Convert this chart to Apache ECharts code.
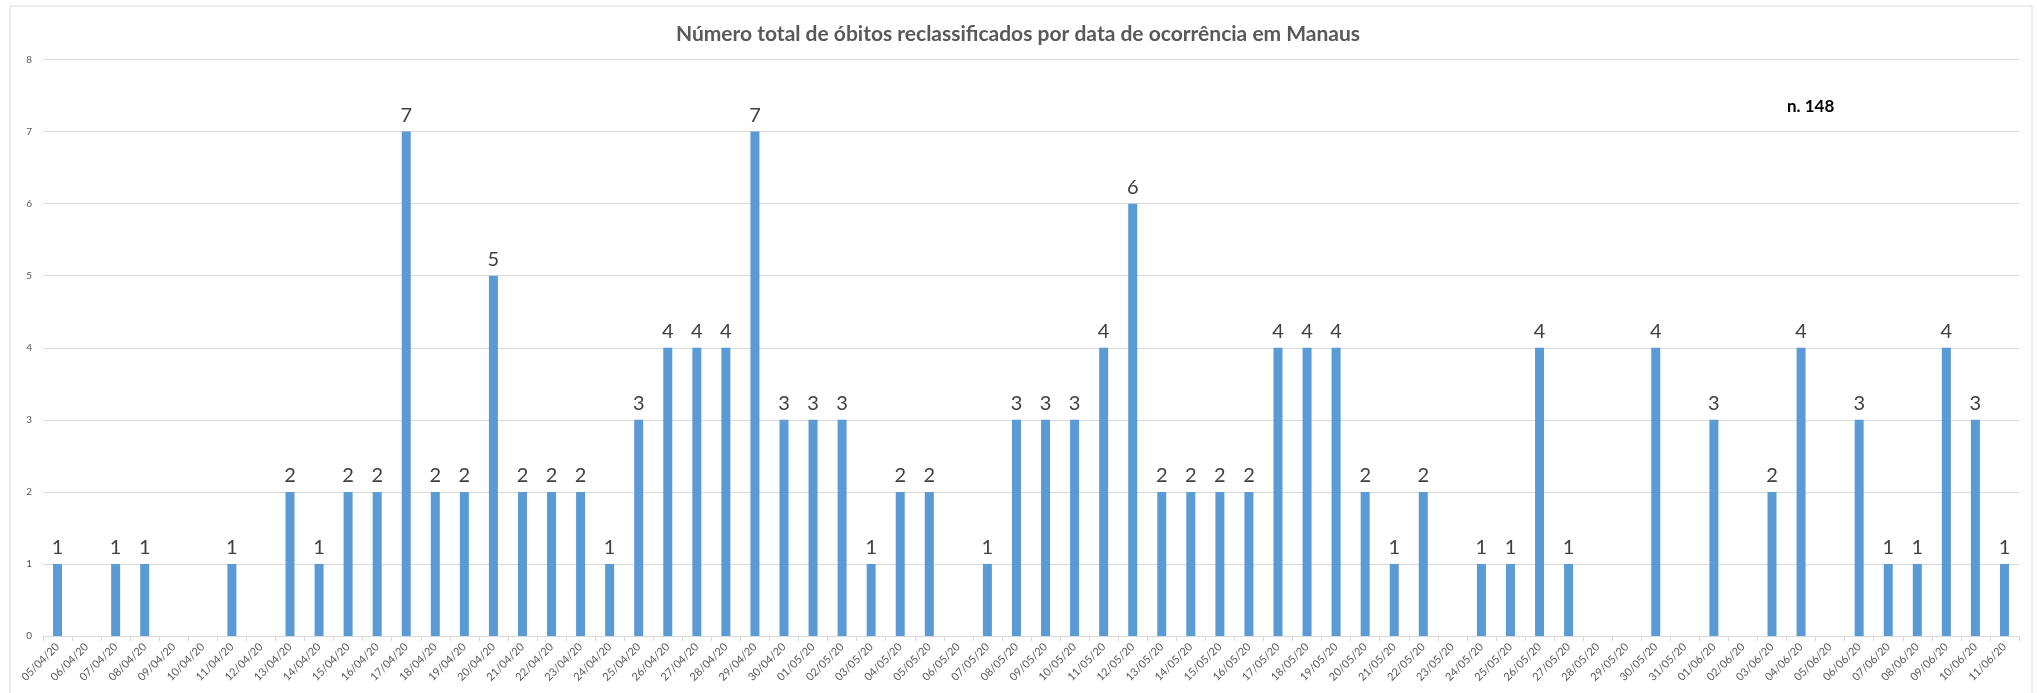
<!DOCTYPE html>
<html>
<head>
<meta charset="utf-8">
<script src="https://cdn.jsdelivr.net/npm/echarts@6/dist/echarts.min.js"></script>
<style>
html,body{margin:0;padding:0;background:#fff;}
#chart{width:2037px;height:693px;}
</style>
</head>
<body>
<div id="chart"></div>
<script>
const titleText = 'Número total de óbitos reclassificados por data de ocorrência em Manaus';
const noteText = 'n. 148';
const categories = [
  '05/04/20','06/04/20','07/04/20','08/04/20','09/04/20','10/04/20','11/04/20','12/04/20','13/04/20','14/04/20',
  '15/04/20','16/04/20','17/04/20','18/04/20','19/04/20','20/04/20','21/04/20','22/04/20','23/04/20','24/04/20',
  '25/04/20','26/04/20','27/04/20','28/04/20','29/04/20','30/04/20',
  '01/05/20','02/05/20','03/05/20','04/05/20','05/05/20','06/05/20','07/05/20','08/05/20','09/05/20','10/05/20',
  '11/05/20','12/05/20','13/05/20','14/05/20','15/05/20','16/05/20','17/05/20','18/05/20','19/05/20','20/05/20',
  '21/05/20','22/05/20','23/05/20','24/05/20','25/05/20','26/05/20','27/05/20','28/05/20','29/05/20','30/05/20','31/05/20',
  '01/06/20','02/06/20','03/06/20','04/06/20','05/06/20','06/06/20','07/06/20','08/06/20','09/06/20','10/06/20','11/06/20'
];
const obitos = [
  1,0,1,1,0,0,1,0,2,1,
  2,2,7,2,2,5,2,2,2,1,
  3,4,4,4,7,3,
  3,3,1,2,2,0,1,3,3,3,
  4,6,2,2,2,2,4,4,4,2,
  1,2,0,1,1,4,1,0,0,4,0,
  3,0,2,4,0,3,1,1,4,3,1
];
const yTicks = [0,1,2,3,4,5,6,7,8];

const chart = echarts.init(document.getElementById('chart'));
chart.setOption({
  animation: false,
  backgroundColor: '#ffffff',
  title: {
    text: titleText,
    left: 1013,
    textAlign: 'center',
    top: 19,
    textStyle: {fontFamily: 'Lato', fontWeight: 'bold', fontSize: 21, color: '#595959'}
  },
  grid: {left: 43, right: 18, top: 59.5, bottom: 57, containLabel: false},
  xAxis: {
    type: 'category',
    data: categories,
    boundaryGap: true,
    axisLine: {lineStyle: {color: '#d9d9d9', width: 1}},
    axisTick: {show: true, length: 5, lineStyle: {color: '#d9d9d9'}},
    axisLabel: {rotate: 45, interval: 0, margin: 9, fontFamily: 'Lato', fontSize: 11, color: '#595959'}
  },
  yAxis: {
    type: 'value',
    min: yTicks[0],
    max: yTicks[yTicks.length - 1],
    interval: 1,
    axisLine: {show: false},
    axisTick: {show: false},
    splitLine: {lineStyle: {color: '#d9d9d9', width: 1}},
    axisLabel: {margin: 11, fontFamily: 'Lato', fontSize: 10, color: '#595959'}
  },
  series: [{
    type: 'bar',
    data: obitos,
    barWidth: 9,
    itemStyle: {color: '#5b9bd5'},
    label: {
      show: true,
      position: 'top',
      distance: 6,
      fontFamily: 'Lato',
      fontSize: 20,
      color: '#404040',
      formatter: p => (p.value === 0 ? '' : String(p.value))
    }
  }],
  graphic: [
    {type: 'rect', shape: {x: 10, y: 6, width: 2022, height: 690}, style: {fill: 'none', stroke: '#d9d9d9', lineWidth: 1}, silent: true},
    {type: 'text', left: 1787, top: 98, style: {text: noteText, font: 'bold 17px Lato', fill: '#000000'}}
  ]
});
</script>
</body>
</html>
